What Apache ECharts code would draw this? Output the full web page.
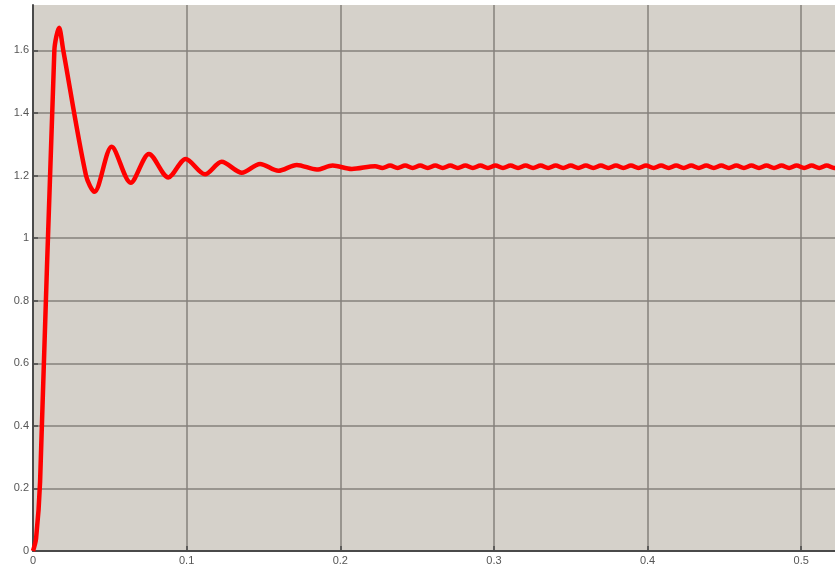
<!DOCTYPE html>
<html>
<head>
<meta charset="utf-8">
<script src="https://cdn.jsdelivr.net/npm/echarts@6/dist/echarts.min.js"></script>
<style>
  html, body { margin: 0; padding: 0; background: #fff; }
  #main { width: 835px; height: 567px; }
</style>
</head>
<body>
<div id="main"></div>
<script>
// step response
var transientTime = [0, 0.002, 0.0046, 0.0139, 0.017, 0.0197, 0.0345, 0.040,
  0.0512, 0.0636, 0.0755, 0.0881, 0.0994, 0.112, 0.1228, 0.1359, 0.1478, 0.1597, 0.1717, 0.1847, 0.1950, 0.2075, 0.2227];
var transientLevel = [0, 0.04, 0.22, 1.6, 1.672, 1.6, 1.2, 1.148,
  1.292, 1.177, 1.269, 1.194, 1.253, 1.204, 1.244, 1.209, 1.237, 1.215, 1.234, 1.219, 1.232, 1.221, 1.230];

// small ripple that stays on after settling
var rippleTime = [0.2275, 0.2324, 0.2373, 0.2422, 0.2471, 0.2520, 0.2569, 0.2618, 0.2667, 0.2716, 0.2765, 0.2814, 0.2863, 0.2912,
  0.2961, 0.3010, 0.3059, 0.3108, 0.3157, 0.3206, 0.3255, 0.3304, 0.3353, 0.3402, 0.3451, 0.3500, 0.3549, 0.3598, 0.3647, 0.3696,
  0.3745, 0.3794, 0.3843, 0.3892, 0.3941, 0.3990, 0.4039, 0.4088, 0.4137, 0.4186, 0.4235, 0.4284, 0.4333, 0.4382, 0.4431, 0.4480,
  0.4529, 0.4578, 0.4627, 0.4676, 0.4725, 0.4774, 0.4823, 0.4872, 0.4921, 0.4970, 0.5019, 0.5068, 0.5117, 0.5166, 0.5215, 0.5264];
var rippleLevel = [1.224, 1.232, 1.224, 1.232, 1.224, 1.232, 1.224, 1.232, 1.224, 1.232, 1.224, 1.232, 1.224, 1.232,
  1.224, 1.232, 1.224, 1.232, 1.224, 1.232, 1.224, 1.232, 1.224, 1.232, 1.224, 1.232, 1.224, 1.232, 1.224, 1.232,
  1.224, 1.232, 1.224, 1.232, 1.224, 1.232, 1.224, 1.232, 1.224, 1.232, 1.224, 1.232, 1.224, 1.232, 1.224, 1.232,
  1.224, 1.232, 1.224, 1.232, 1.224, 1.232, 1.224, 1.232, 1.224, 1.232, 1.224, 1.232, 1.224, 1.232, 1.224, 1.232];

var lineData = [];
for (var i = 0; i < transientTime.length; i++) {
  lineData.push([transientTime[i], transientLevel[i]]);
}
for (var j = 0; j < rippleTime.length; j++) {
  lineData.push([rippleTime[j], rippleLevel[j]]);
}

var chart = echarts.init(document.getElementById('main'));

var gridLine = { show: true, showMaxLine: false, lineStyle: { color: '#84817b', width: 1.5 } };
var labelStyle = { color: '#555', fontSize: 11, fontFamily: 'Liberation Sans, Arial, sans-serif' };

var option = {
  animation: false,
  backgroundColor: '#fff',
  grid: {
    left: 33, right: 0, top: 5, bottom: 16,
    show: true,
    backgroundColor: '#d5d1ca',
    borderWidth: 0
  },
  xAxis: {
    type: 'value',
    min: 0,
    max: 0.522,
    interval: 0.1,
    axisLine: { show: true, lineStyle: { color: '#4a4a4a', width: 2 } },
    axisTick: { show: true, inside: true, length: 5, lineStyle: { color: '#4a4a4a', width: 1.5 } },
    axisLabel: Object.assign({ margin: 4, showMaxLabel: false }, labelStyle),
    splitLine: gridLine
  },
  yAxis: {
    type: 'value',
    min: 0,
    max: 1.745,
    interval: 0.2,
    axisLine: { show: true, lineStyle: { color: '#4a4a4a', width: 2 } },
    axisTick: { show: true, inside: true, length: 5, lineStyle: { color: '#4a4a4a', width: 1.5 } },
    axisLabel: Object.assign({
      margin: 4,
      showMaxLabel: false,
      formatter: function (v) { return +v.toFixed(1) + ''; }
    }, labelStyle),
    splitLine: gridLine
  },
  series: [{
    type: 'line',
    data: lineData,
    showSymbol: false,
    smooth: 0.3,
    clip: true,
    lineStyle: { color: '#ff0000', width: 4.5 }
  }]
};

chart.setOption(option);
</script>
</body>
</html>
